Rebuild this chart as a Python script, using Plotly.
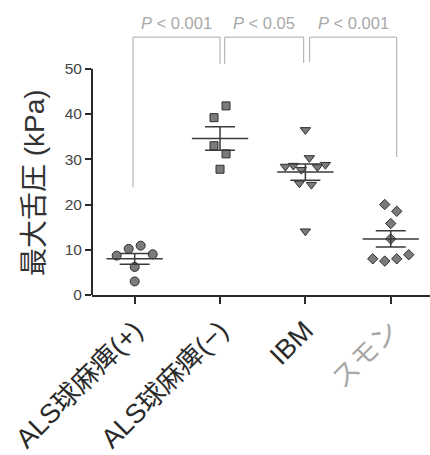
import numpy as np
import plotly.graph_objects as go

# ---- data -------------------------------------------------------------
categories = ["ALS球麻痺(+)", "ALS球麻痺(−)", "IBM", "スモン"]
als_bulbar_pos = [8.7, 10.2, 10.9, 9.0, 6.2, 3.0]
als_bulbar_neg = [39.2, 41.8, 33.0, 31.2, 27.8]
ibm = [36.5, 28.4, 28.6, 27.7, 30.3, 28.3, 28.8, 24.7, 24.4, 14.1]
smon = [20.0, 18.5, 15.8, 12.4, 8.0, 7.5, 8.0, 8.9]
groups = [als_bulbar_pos, als_bulbar_neg, ibm, smon]
p_labels = ["0.001", "0.05", "0.001"]
y_ticks = [0, 10, 20, 30, 40, 50]

# ---- styling ----------------------------------------------------------
W, H = 430, 455
M_L, M_R, M_T, M_B = 92, 0, 10, 160
X_RANGE = [-0.5, 3.46]
Y_RANGE = [0, 63]
PX_PER_UNIT = (W - M_L - M_R) / (X_RANGE[1] - X_RANGE[0])
symbols = ["circle", "square", "triangle-down", "diamond"]
sizes = [9, 8, 9, 8]
FILL = "#7b7b7b"
EDGE = "#2f2f2f"
INK = "#2a2a2a"
PALE = "#a8a8a8"
FONT = "Liberation Sans, Arial, Noto Sans CJK JP, sans-serif"
label_colors = [INK, INK, INK, PALE]


def swarm_offsets(values, gap=2.7, step=12, span=40):
    """Group close values into rows and spread each row around the centre."""
    order = sorted(range(len(values)), key=lambda i: -values[i])
    rows = []
    for i in order:
        if rows and values[rows[-1][0]] - values[i] < gap:
            rows[-1].append(i)
        else:
            rows.append([i])
    offs = [0.0] * len(values)
    for row in rows:
        row.sort()
        n = len(row)
        w = min(step, span / (n - 1)) if n > 1 else 0
        for k, i in enumerate(row):
            offs[i] = (k - (n - 1) / 2) * w / PX_PER_UNIT
    return offs


fig = go.Figure()

# individual points
for gi, vals in enumerate(groups):
    offs = swarm_offsets(vals)
    fig.add_trace(go.Scatter(
        x=[gi + o for o in offs], y=vals, mode="markers",
        marker=dict(symbol=symbols[gi], size=sizes[gi], color=FILL,
                    line=dict(color=EDGE, width=1)),
        showlegend=False, hoverinfo="skip"))

# mean lines and SEM error bars
means = [float(np.mean(v)) for v in groups]
sems = [float(np.std(v, ddof=1) / np.sqrt(len(v))) for v in groups]
mx, my = [], []
for gi, m in enumerate(means):
    mx += [gi - 0.33, gi + 0.33, None]
    my += [m, m, None]
fig.add_trace(go.Scatter(x=mx, y=my, mode="lines",
                         line=dict(color="#3a3a3a", width=1.5),
                         showlegend=False, hoverinfo="skip"))
fig.add_trace(go.Scatter(
    x=list(range(len(groups))), y=means, mode="markers",
    marker=dict(size=1, color="rgba(0,0,0,0)"),
    error_y=dict(type="data", array=sems, visible=True, width=15,
                 thickness=1.5, color="#3a3a3a"),
    showlegend=False, hoverinfo="skip"))

# significance brackets: (left x, right x, left leg end, right leg end)
brackets = [(-0.02, 1.0, 23.8, 51.1),
            (1.055, 1.98, 51.1, 51.3),
            (2.05, 3.07, 51.5, 30.5)]
TOP = 57.0
shapes = []
for (x0, x1, y0, y1), p in zip(brackets, p_labels):
    shapes.append(dict(type="path", xref="x", yref="y",
                       path=f"M {x0},{y0} L {x0},{TOP} L {x1},{TOP} L {x1},{y1}",
                       line=dict(color=PALE, width=1)))
    fig.add_annotation(x=(x0 + x1) / 2, y=60.2, xref="x", yref="y",
                       text=f"<i>P</i> &lt; {p}", showarrow=False,
                       font=dict(family=FONT, size=16.5, color=PALE),
                       xanchor="center", yanchor="middle")

# y axis line stops at the top tick
shapes.append(dict(type="line", xref="paper", yref="y", x0=0, x1=0,
                   y0=0, y1=y_ticks[-1], line=dict(color=INK, width=2)))

fig.update_layout(
    width=W, height=H,
    margin=dict(l=M_L, r=M_R, t=M_T, b=M_B),
    paper_bgcolor="white", plot_bgcolor="white",
    shapes=shapes,
    xaxis=dict(range=X_RANGE, showgrid=False, zeroline=False, automargin=False,
               showline=True, linewidth=2, linecolor=INK,
               ticks="outside", ticklen=7, tickwidth=1.5, tickcolor=INK,
               tickvals=list(range(len(categories))),
               ticktext=[f"<span style='color:{c}'>{t}</span>"
                         for t, c in zip(categories, label_colors)],
               tickangle=-45,
               tickfont=dict(family=FONT, size=27, color=INK)),
    yaxis=dict(range=Y_RANGE, showgrid=False, zeroline=False, automargin=False,
               showline=False,
               ticks="outside", ticklen=6, tickwidth=1.5, tickcolor=INK,
               tickvals=y_ticks,
               tickfont=dict(family=FONT, size=15.5, color="#444444")),
)

fig.add_annotation(x=(34 - M_L) / (W - M_L - M_R), y=(H - M_B - 183) / (H - M_T - M_B),
                   xref="paper", yref="paper", text="最大舌圧 (kPa)",
                   textangle=-90, showarrow=False,
                   font=dict(family=FONT, size=28, color="#333333"),
                   xanchor="center", yanchor="middle")

fig.write_html("out.html")
